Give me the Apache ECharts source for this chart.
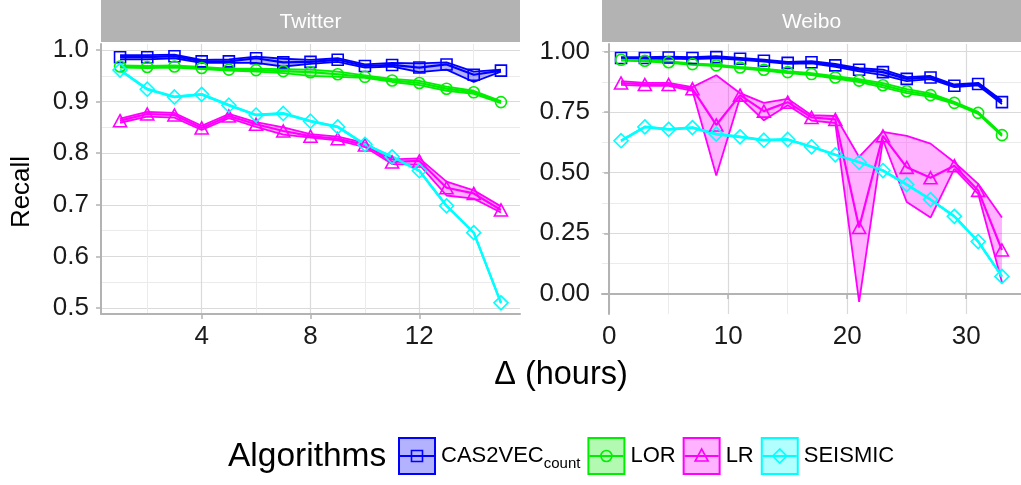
<!DOCTYPE html>
<html><head><meta charset="utf-8">
<script src="https://cdn.jsdelivr.net/npm/echarts@6/dist/echarts.min.js"></script>
<style>html,body{margin:0;padding:0;background:#fff}#c{width:1021px;height:485px}</style>
</head><body><div id="c"></div>
<script>
const FONT = '"Liberation Sans",Arial,sans-serif';

// ---------- data ----------
const panels = ['Twitter', 'Weibo'];
const algorithms = ['CAS2VEC', 'LOR', 'LR', 'SEISMIC'];
const algSubscripts = ['count', '', '', ''];
const algColors = ['#0000ff', '#00ee00', '#ff00ff', '#00ffff'];
const algSymbols = ['rect', 'circle', 'triangle', 'diamond'];

const twitterX = [1, 2, 3, 4, 5, 6, 7, 8, 9, 10, 11, 12, 13, 14, 15];
const weiboX = [1, 3, 5, 7, 9, 11, 13, 15, 17, 19, 21, 23, 25, 27, 29, 31, 33];

const twitterXTicks = [4, 8, 12];
const twitterXMinor = [2, 6, 10, 14];
const twitterYTicks = [0.5, 0.6, 0.7, 0.8, 0.9, 1.0];
const twitterYMinor = [0.55, 0.65, 0.75, 0.85, 0.95];
const weiboXTicks = [0, 10, 20, 30];
const weiboXMinor = [5, 15, 25];
const weiboYTicks = [0, 0.25, 0.5, 0.75, 1.0];
const weiboYMinor = [0.125, 0.375, 0.625, 0.875];

// Twitter
const twCas2vecMean  = [0.986, 0.986, 0.988, 0.978, 0.978, 0.984, 0.976, 0.977, 0.981, 0.969, 0.971, 0.966, 0.972, 0.952, 0.960];
const twCas2vecLower = [0.982, 0.982, 0.984, 0.975, 0.975, 0.975, 0.968, 0.973, 0.977, 0.966, 0.968, 0.957, 0.962, 0.938, 0.958];
const twCas2vecUpper = [0.990, 0.990, 0.991, 0.981, 0.982, 0.987, 0.983, 0.981, 0.984, 0.972, 0.975, 0.974, 0.976, 0.958, 0.962];
const twLorMean  = [0.968, 0.967, 0.968, 0.965, 0.962, 0.961, 0.959, 0.957, 0.953, 0.948, 0.941, 0.936, 0.925, 0.918, 0.899];
const twLorLower = [0.966, 0.965, 0.966, 0.963, 0.960, 0.958, 0.955, 0.950, 0.948, 0.946, 0.938, 0.932, 0.921, 0.915, 0.897];
const twLorUpper = [0.970, 0.969, 0.970, 0.967, 0.964, 0.964, 0.963, 0.962, 0.958, 0.951, 0.944, 0.940, 0.929, 0.921, 0.901];
const twLrMean  = [0.863, 0.876, 0.874, 0.849, 0.872, 0.856, 0.843, 0.833, 0.828, 0.816, 0.783, 0.785, 0.733, 0.722, 0.690];
const twLrLower = [0.859, 0.871, 0.869, 0.845, 0.868, 0.851, 0.836, 0.830, 0.825, 0.812, 0.779, 0.778, 0.718, 0.712, 0.685];
const twLrUpper = [0.867, 0.880, 0.878, 0.853, 0.876, 0.860, 0.850, 0.837, 0.832, 0.820, 0.788, 0.790, 0.745, 0.728, 0.697];
const twSeismicMean  = [0.961, 0.924, 0.909, 0.914, 0.893, 0.874, 0.877, 0.862, 0.851, 0.817, 0.793, 0.766, 0.698, 0.646, 0.510];
const twSeismicLower = [0.960, 0.923, 0.908, 0.913, 0.892, 0.873, 0.876, 0.861, 0.850, 0.816, 0.792, 0.765, 0.697, 0.645, 0.509];
const twSeismicUpper = [0.962, 0.925, 0.910, 0.915, 0.894, 0.875, 0.878, 0.863, 0.852, 0.818, 0.794, 0.767, 0.699, 0.647, 0.511];

// Weibo
const wbCas2vecMean  = [0.973, 0.973, 0.975, 0.973, 0.977, 0.970, 0.962, 0.953, 0.956, 0.943, 0.925, 0.915, 0.887, 0.893, 0.859, 0.866, 0.791];
const wbCas2vecLower = [0.969, 0.969, 0.971, 0.969, 0.972, 0.966, 0.958, 0.949, 0.951, 0.937, 0.918, 0.903, 0.878, 0.886, 0.853, 0.860, 0.783];
const wbCas2vecUpper = [0.977, 0.977, 0.979, 0.977, 0.981, 0.974, 0.966, 0.957, 0.960, 0.949, 0.931, 0.925, 0.894, 0.899, 0.864, 0.871, 0.798];
const wbLorMean  = [0.966, 0.962, 0.956, 0.948, 0.943, 0.934, 0.925, 0.915, 0.907, 0.893, 0.880, 0.861, 0.836, 0.820, 0.788, 0.747, 0.655];
const wbLorLower = [0.963, 0.959, 0.953, 0.945, 0.940, 0.931, 0.921, 0.911, 0.903, 0.888, 0.874, 0.852, 0.828, 0.813, 0.784, 0.743, 0.651];
const wbLorUpper = [0.969, 0.965, 0.959, 0.951, 0.946, 0.937, 0.929, 0.919, 0.911, 0.898, 0.886, 0.870, 0.845, 0.827, 0.792, 0.751, 0.659];
const wbLrMean  = [0.870, 0.864, 0.864, 0.846, 0.697, 0.820, 0.754, 0.791, 0.728, 0.720, 0.274, 0.652, 0.522, 0.479, 0.529, 0.427, 0.181];
const wbLrLower = [0.862, 0.858, 0.858, 0.838, 0.488, 0.810, 0.716, 0.778, 0.715, 0.705, -0.033, 0.635, 0.379, 0.315, 0.516, 0.413, 0.048];
const wbLrUpper = [0.878, 0.871, 0.871, 0.853, 0.902, 0.828, 0.788, 0.805, 0.737, 0.734, 0.565, 0.668, 0.652, 0.620, 0.543, 0.454, 0.315];
const wbSeismicMean  = [0.632, 0.689, 0.679, 0.686, 0.659, 0.648, 0.634, 0.637, 0.607, 0.574, 0.543, 0.509, 0.451, 0.389, 0.320, 0.216, 0.072];
const wbSeismicLower = [0.630, 0.687, 0.677, 0.684, 0.657, 0.646, 0.632, 0.635, 0.605, 0.572, 0.541, 0.507, 0.449, 0.387, 0.318, 0.214, 0.070];
const wbSeismicUpper = [0.634, 0.691, 0.681, 0.688, 0.661, 0.650, 0.636, 0.639, 0.609, 0.576, 0.545, 0.511, 0.453, 0.391, 0.322, 0.218, 0.074];

// ---------- build ----------
const panelData = [
  { x: twitterX, sets: [
      [twCas2vecMean, twCas2vecLower, twCas2vecUpper],
      [twLorMean, twLorLower, twLorUpper],
      [twLrMean, twLrLower, twLrUpper],
      [twSeismicMean, twSeismicLower, twSeismicUpper]] },
  { x: weiboX, sets: [
      [wbCas2vecMean, wbCas2vecLower, wbCas2vecUpper],
      [wbLorMean, wbLorLower, wbLorUpper],
      [wbLrMean, wbLrLower, wbLrUpper],
      [wbSeismicMean, wbSeismicLower, wbSeismicUpper]] }
];

const symSizes = { rect: 11, circle: 11, triangle: [13, 12], diamond: [14, 14] };
const series = [];
panelData.forEach((pd, p) => {
  const xi = p * 2, yi = p * 2;
  pd.sets.forEach((s, a) => {
    const [mean, lower, upper] = s;
    const c = algColors[a];
    const xs = pd.x;
    series.push({
      type: 'custom', xAxisIndex: xi, yAxisIndex: yi, silent: true, z: 1, animation: false,
      clip: true,
      data: xs.map((x, i) => [x, lower[i], upper[i]]),
      encode: { x: 0, y: [1, 2] },
      renderItem: (params, api) => {
        if (params.dataIndex !== 0) return null;
        const pts = [];
        for (let i = 0; i < xs.length; i++) pts.push(api.coord([xs[i], upper[i]]));
        for (let i = xs.length - 1; i >= 0; i--) pts.push(api.coord([xs[i], lower[i]]));
        return { type: 'polygon', shape: { points: pts },
                 style: { fill: echarts.color.modifyAlpha(c, 0.3), stroke: null } };
      }
    });
    [lower, upper].forEach(b => series.push({
      type: 'line', xAxisIndex: xi, yAxisIndex: yi, silent: true, z: 2, animation: false,
      data: xs.map((x, i) => [x, b[i]]), symbol: 'none',
      lineStyle: { color: c, width: 1.8 }
    }));
  });
  pd.sets.forEach((s, a) => {
    const [mean] = s;
    const c = algColors[a];
    series.push({
      name: algorithms[a], type: 'line', xAxisIndex: xi, yAxisIndex: yi,
      data: pd.x.map((x, i) => [x, mean[i]]),
      symbol: algSymbols[a], symbolSize: symSizes[algSymbols[a]], showAllSymbol: true,
      itemStyle: { color: 'rgba(0,0,0,0)', borderColor: c, borderWidth: 1.6 },
      lineStyle: { color: c, width: 2.2 }, silent: true, z: 3, animation: false
    });
  });
});

const axisGray = '#b3b3b3';
const labelStyle = { color: '#1a1a1a', fontSize: 26, fontFamily: FONT };
function primaryX(grid, min, max, ticks) {
  return { type: 'value', gridIndex: grid, min, max, position: 'bottom',
    axisLine: { show: true, lineStyle: { color: axisGray, width: 2 } },
    axisTick: { show: true, length: 5, customValues: ticks, lineStyle: { color: axisGray, width: 1.5 } },
    axisLabel: { show: true, customValues: ticks, margin: 10, ...labelStyle },
    splitLine: { show: true, lineStyle: { color: '#dadada', width: 1.2 } } };
}
function minorAxisX(grid, min, max, ticks) {
  return { type: 'value', gridIndex: grid, min, max, position: 'bottom',
    axisLine: { show: false }, axisTick: { show: false, customValues: ticks },
    axisLabel: { show: false, customValues: ticks },
    splitLine: { show: true, lineStyle: { color: '#ebebeb', width: 1 } } };
}
function primaryY(grid, min, max, ticks, dec) {
  return { type: 'value', gridIndex: grid, min, max, position: 'left',
    axisLine: { show: true, lineStyle: { color: axisGray, width: 2 } },
    axisTick: { show: true, length: 5, customValues: ticks, lineStyle: { color: axisGray, width: 1.5 } },
    axisLabel: { show: true, customValues: ticks, margin: 12, formatter: v => v.toFixed(dec), ...labelStyle },
    splitLine: { show: true, lineStyle: { color: '#dadada', width: 1.2 } } };
}
function minorAxisY(grid, min, max, ticks) {
  return { type: 'value', gridIndex: grid, min, max, position: 'left',
    axisLine: { show: false }, axisTick: { show: false, customValues: ticks },
    axisLabel: { show: false, customValues: ticks },
    splitLine: { show: true, lineStyle: { color: '#ebebeb', width: 1 } } };
}

const twX = [0.3, 15.7], twY = [0.4884, 1.0116];
const wbX = [-0.6, 34.6], wbY = [-0.083, 1.031];

const grids = [
  { left: 101, right: 501, top: 44, bottom: 171 },
  { left: 602, right: 0, top: 44, bottom: 171 }
].map(g => Object.assign(g, { containLabel: false, outerBoundsMode: 'none' }));

// strips, titles, legend as graphics
const graphic = [];
const strips = [[101, 520], [602, 1021]];
panels.forEach((name, i) => {
  const [x0, x1] = strips[i];
  graphic.push({ type: 'rect', shape: { x: x0, y: 0, width: x1 - x0, height: 42 }, style: { fill: '#b3b3b3' }, silent: true });
  graphic.push({ type: 'text', x: (x0 + x1) / 2, y: 22, silent: true,
    style: { text: name, fill: '#ffffff', fontSize: 21, fontFamily: FONT, align: 'center', verticalAlign: 'middle' } });
});
graphic.push({ type: 'text', x: 22, y: 192, rotation: Math.PI / 2, silent: true,
  style: { text: 'Recall', fill: '#000', fontSize: 26, fontFamily: FONT, align: 'center', verticalAlign: 'middle' } });
graphic.push({ type: 'text', x: 561, y: 375, silent: true,
  style: { text: 'Δ (hours)', fill: '#000', fontSize: 32.5, fontFamily: FONT, align: 'center', verticalAlign: 'middle' } });

// legend layout measured from text widths
const measure = (() => {
  const ctx = document.createElement('canvas').getContext('2d');
  return (t, size) => { ctx.font = size + 'px ' + FONT; return ctx.measureText(t).width; };
})();
const legTitleSize = 33.5, legLabelSize = 22, legSubSize = 15;
const keyS = 38, keyY = 437, keyGap = 5, itemGap = 7;
graphic.push({ type: 'text', x: 228, y: 457, silent: true,
  style: { text: 'Algorithms', fill: '#000', fontSize: legTitleSize, fontFamily: FONT, align: 'left', verticalAlign: 'middle' } });
let lx = 398;
algorithms.forEach((alg, i) => {
  const c = algColors[i];
  const x0 = lx, cx = x0 + keyS / 2, cy = keyY + keyS / 2;
  graphic.push({ type: 'rect', silent: true, shape: { x: x0 + 1, y: keyY + 1, width: keyS - 2, height: keyS - 2 },
    style: { fill: echarts.color.modifyAlpha(c, 0.3), stroke: c, lineWidth: 2 } });
  graphic.push({ type: 'line', silent: true, shape: { x1: x0 + 2, y1: cy, x2: x0 + keyS - 2, y2: cy },
    style: { stroke: c, lineWidth: 2 } });
  const st = { fill: 'none', stroke: c, lineWidth: 1.6 };
  if (i === 0) graphic.push({ type: 'rect', silent: true, shape: { x: cx - 5.5, y: cy - 5.5, width: 11, height: 11 }, style: st });
  if (i === 1) graphic.push({ type: 'circle', silent: true, shape: { cx, cy, r: 5.5 }, style: st });
  if (i === 2) graphic.push({ type: 'polygon', silent: true, shape: { points: [[cx, cy - 7], [cx - 6.5, cy + 5], [cx + 6.5, cy + 5]] }, style: st });
  if (i === 3) graphic.push({ type: 'polygon', silent: true, shape: { points: [[cx, cy - 7], [cx - 7, cy], [cx, cy + 7], [cx + 7, cy]] }, style: st });
  let tx = x0 + keyS + keyGap;
  graphic.push({ type: 'text', x: tx, y: cy, silent: true,
    style: { text: alg, fill: '#000', fontSize: legLabelSize, fontFamily: FONT, align: 'left', verticalAlign: 'middle' } });
  tx += measure(alg, legLabelSize);
  if (algSubscripts[i]) {
    graphic.push({ type: 'text', x: tx, y: cy + 8, silent: true,
      style: { text: algSubscripts[i], fill: '#000', fontSize: legSubSize, fontFamily: FONT, align: 'left', verticalAlign: 'middle' } });
    tx += measure(algSubscripts[i], legSubSize);
  }
  lx = tx + itemGap;
});

const chart = echarts.init(document.getElementById('c'), null, { renderer: 'canvas' });
chart.setOption({
  animation: false,
  backgroundColor: '#ffffff',
  grid: grids,
  xAxis: [primaryX(0, twX[0], twX[1], twitterXTicks), minorAxisX(0, twX[0], twX[1], twitterXMinor),
          primaryX(1, wbX[0], wbX[1], weiboXTicks), minorAxisX(1, wbX[0], wbX[1], weiboXMinor)],
  yAxis: [primaryY(0, twY[0], twY[1], twitterYTicks, 1), minorAxisY(0, twY[0], twY[1], twitterYMinor),
          primaryY(1, wbY[0], wbY[1], weiboYTicks, 2), minorAxisY(1, wbY[0], wbY[1], weiboYMinor)],
  series,
  graphic
});
</script></body></html>
